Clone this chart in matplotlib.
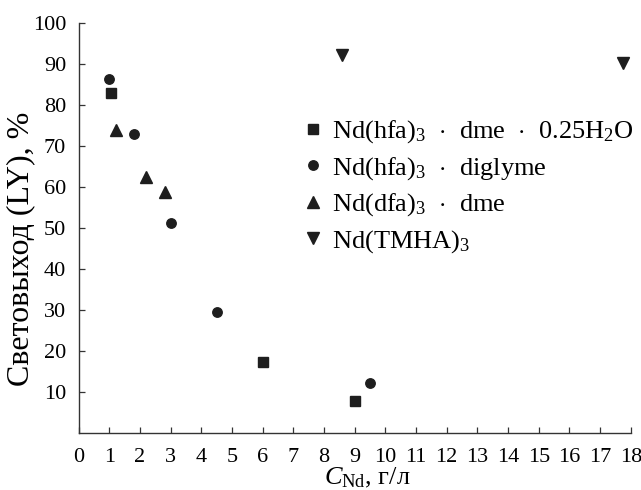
import numpy as np
from matplotlib import pyplot as plt

plt.rcParams['font.family'] = ['Liberation Serif', 'DejaVu Serif']
plt.rcParams['mathtext.fontset'] = 'custom'
plt.rcParams['mathtext.rm'] = 'Liberation Serif'
plt.rcParams['mathtext.it'] = 'Liberation Serif:italic'

# data
sq_x = [1.05, 6.0, 9.0]
sq_y = [83.0, 17.2, 7.8]
circ_x = [1.0, 1.8, 3.0, 4.5, 9.5]
circ_y = [86.4, 72.9, 51.1, 29.4, 12.0]
tri_x = [1.2, 2.2, 2.8]
tri_y = [74.0, 62.4, 58.7]
dtri_x = [8.6, 17.75]
dtri_y = [92.3, 90.4]

labels = [r'Nd(hfa)$_3$  $\cdot$  dme  $\cdot$  0.25H$_2$O',
          r'Nd(hfa)$_3$  $\cdot$  diglyme',
          r'Nd(dfa)$_3$  $\cdot$  dme',
          r'Nd(TMHA)$_3$']

col = '#1e1e1e'

fig = plt.figure(figsize=(6.41, 4.9), dpi=100)
ax = fig.add_axes([0.1228, 0.1173, 0.984 - 0.1228, 0.9522 - 0.1173])

ax.plot(sq_x, sq_y, 's', color=col, ms=7.6, ls='none', label=labels[0])
ax.plot(circ_x, circ_y, 'o', color=col, ms=6.8, ls='none', label=labels[1])
ax.plot(tri_x, tri_y, '^', color=col, ms=8.5, ls='none', label=labels[2])
ax.plot(dtri_x, dtri_y, 'v', color=col, ms=8.5, ls='none', label=labels[3])

ax.set_xlim(0, 18)
ax.set_ylim(0, 100)
ax.set_xticks(np.arange(0, 19, 1))
ax.set_yticks(np.arange(10, 101, 10))
ax.spines['top'].set_visible(False)
ax.spines['right'].set_visible(False)
for s in ['left', 'bottom']:
    ax.spines[s].set_color('#333333')
    ax.spines[s].set_linewidth(1.0)
ax.tick_params(direction='in', length=4.5, width=0.9, color='#333333',
               labelsize=16)
ax.tick_params(axis='x', pad=11)
ax.tick_params(axis='y', pad=9)

ax.set_ylabel('Световыход (LY), %', fontsize=23)
ax.yaxis.set_label_coords(-0.078, 0.45)
ax.set_xlabel(r'$C_{\mathrm{Nd}}$, г/л', fontsize=19)
ax.xaxis.set_label_coords(0.522, -0.082)

ax.legend(loc='upper left', bbox_to_anchor=(0.377, 0.80), frameon=False,
          fontsize=19, handletextpad=0.2, handlelength=1.0,
          labelspacing=0.37, borderpad=0)

fig.savefig('out.png', dpi=100)
